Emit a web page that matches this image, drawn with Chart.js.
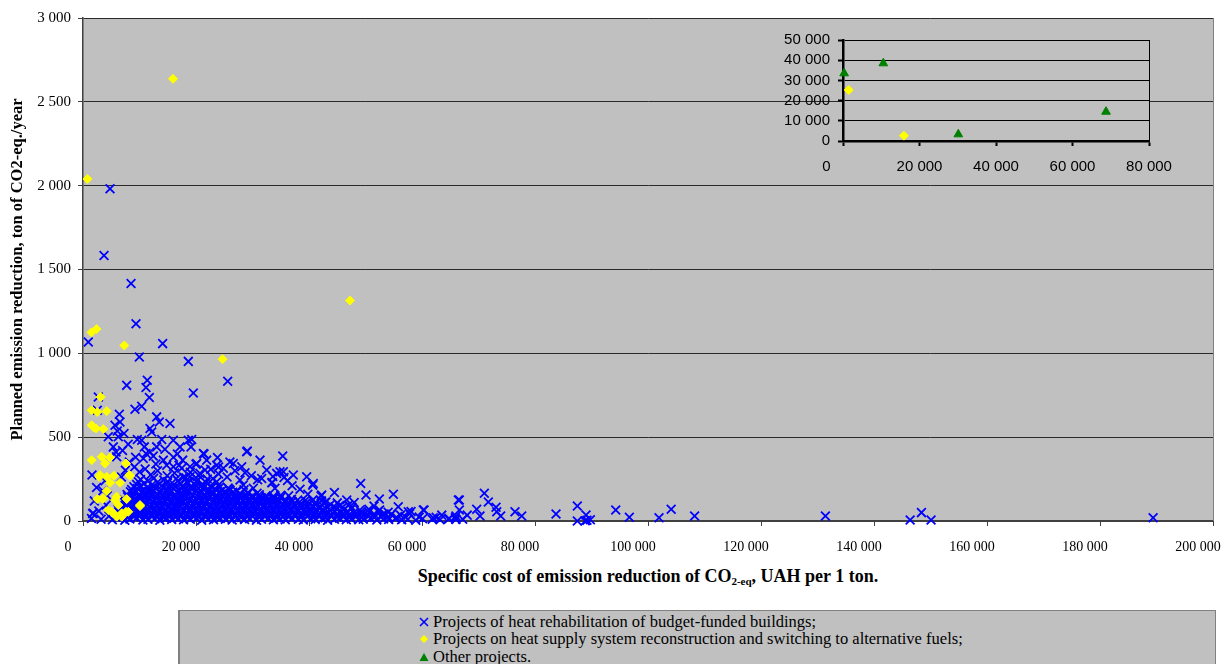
<!DOCTYPE html>
<html><head><meta charset="utf-8">
<script src="https://cdn.jsdelivr.net/npm/chart.js@4.4.1/dist/chart.umd.min.js"></script>
<style>
html,body{margin:0;padding:0;background:#fff;}
#wrap{position:relative;width:1224px;height:664px;overflow:hidden;}
#main{position:absolute;left:0;top:0;}
#inset{position:absolute;left:760px;top:25px;}
#xtitle{position:absolute;left:83px;width:1130px;top:566px;text-align:center;font:bold 18px "Liberation Serif",serif;color:#000;white-space:nowrap;}
#xtitle sub{font-size:11px;vertical-align:-3px;line-height:0;}
#legend{position:absolute;left:178px;top:610px;width:1038px;height:60px;background:#c0c0c0;border:1px solid #808080;border-left:2px solid #808080;box-sizing:border-box;font:16.5px "Liberation Serif",serif;color:#000;}
.row{position:absolute;left:238px;height:17px;display:flex;align-items:center;white-space:nowrap;}
.row svg{margin-right:3px;}
</style>
</head><body>
<div id="wrap">
<canvas id="main" width="1224" height="560"></canvas>
<canvas id="inset" width="440" height="160"></canvas>
<div id="xtitle">Specific cost of emission reduction of CO<sub>2-eq</sub>, UAH per 1 ton.</div>
<div id="legend">
 <div class="row" style="top:2px"><svg width="12" height="12"><path d="M2 2L10 10M10 2L2 10" stroke="#0000ff" stroke-width="1.6" fill="none"/></svg><span>Projects of heat rehabilitation of budget-funded buildings;</span></div>
 <div class="row" style="top:19px"><svg width="12" height="12"><path d="M6 2L10 6L6 10L2 6Z" fill="#ffff00"/></svg><span>Projects on heat supply system reconstruction and switching to alternative fuels;</span></div>
 <div class="row" style="top:37px"><svg width="12" height="12"><path d="M6 2L10.5 10H1.5Z" fill="#008000"/></svg><span>Other projects.</span></div>
</div>
</div>
<script>
// ---- Data (x: UAH per ton, y: ton CO2-eq/year) ----
const xTicksMain = [0,20000,40000,60000,80000,100000,120000,140000,160000,180000,200000];
const yTicksMain = [0,500,1000,1500,2000,2500,3000];

const yellowPoints = [
 [800,2040],[15930,2637],[47260,1315],[24700,965],[7310,1047],[1500,1125],[2400,1145],
 [3130,740],[1540,660],[2530,650],[4190,655],[1540,571],[1820,561],[2300,552],[3590,548],
 [1540,363],[3310,383],[4780,379],[3890,343],[7610,343],[2890,264],[3010,274],[4190,264],[5490,270],
 [8320,270],[8200,274],[4780,228],[6550,228],[4190,179],[2530,131],[3490,131],[3590,135],[5660,125],
 [5960,145],[7730,131],[4480,65],[6250,95],[7610,55],[10090,95],[10090,89],[6850,46],[5360,46],
 [5080,55],[8020,55],[6850,26],[5960,26]
];

const blueOutliers = [
 [4780,1982],[3720,1583],[8500,1417],[9380,1177],[14100,1058],[940,1067],[9970,978],[18640,952],
 [19530,764],[25610,833],[7730,809],[11380,839],[11150,796],[11740,736],[10380,684],[9200,667],
 [6430,637],[13040,621],[13500,591],[15400,581],[2710,740],[2530,660],[5660,571],[6070,537],
 [6550,591],[4480,502],[5360,442],[5840,412],[5960,383],[6250,502],[7260,522],[9610,486],
 [10390,482],[10850,442],[11150,403],[11860,412],[12440,387],[10670,373],[13930,486],[13040,442],
 [12160,531],[11860,552],[15980,482],[17170,442],[16700,399],[18640,482],[19120,442],[17640,363],
 [21420,399],[29080,417],[35350,387],[1590,274],[14220,363],[14810,333],[15990,323],[17470,314],
 [18940,323],[20120,343],[21890,363],[23660,333],[24840,314],[26600,343],[28090,323],[31330,363],
 [32510,304],[34280,284],[37220,274],[39590,264],[40760,224],[19240,486],[21300,403],[28970,413],
 [35460,294],[35580,260],[21600,304],[22600,308],[28670,288],[31630,254],[27790,244],[34870,294],
 [24000,280],[25500,262],[26900,300],[29800,270],[30900,246],[33600,266],[36200,242],[23000,252],
 [20500,272],[19000,290],[17800,262],[16200,286],[14900,270],[13200,300],[12000,276],[11000,310],
 [10000,292],[9100,322],[8200,352],[7500,302],[6800,262],[7000,420],[8000,458],[9300,380],
 [12900,340],[14500,428],[16000,380],[17000,332],[20000,338],[24000,322],[26000,352],[23800,378],
 [33400,228],[33980,195],[30140,195],[28370,214],[23660,234],[26020,184],[18940,264],[20710,284],
 [40660,214],[38410,189],[42250,155]
];

const blueLeft = [
 [2000,120],[2800,60],[3500,180],[4100,95],[4600,30],[3200,10],[4300,150],[2400,200],[1700,45],
 [1820,46],[1500,15],[3900,240]
];

const blueClusterX = [
 5200,6300,7400,8300,9500,10600,11500,12700,13600,14800,15700,16900,17800,19000,20100,21000,22200,23100,24300,25200,26400,27300,28600,29500,30700,31600,32800,33700,34900,35800,37000,38100,39000,40300,41100,42400,43300,44500,45400,46600,47500,48800,49600,50900,52000,53200,54100,55300,56400,57500,58900,60100,61800,63200,64700,66000,
 5700,6800,7900,8900,10000,11100,12100,13200,14200,15300,16300,17400,18400,19500,20600,21600,22700,23700,24800,25800,26900,27900,29000,30100,31100,32200,33200,34300,35300,36500,37500,38600,39600,40800,41700,42900,43800,45000,46000,47100,48200,49300,50400,51500,53000,54600,56200,57800,
 6200,7300,8400,9400,10500,11600,12600,13700,14700,15800,16800,17900,18900,20000,21100,22100,23200,24200,25300,26300,27400,28400,29500,30600,31600,32700,33700,34800,35800,36900,38000,39100,40200,41300,42500,43700,44900,46200,47500,49000,50600,52500,
 6700,7800,8900,9900,11000,12100,13100,14200,15200,16300,17300,18400,19400,20500,21600,22600,23700,24700,25800,26800,27900,28900,30000,31100,32100,33200,34200,35300,36300,37400,38500,39700,41000,42300,43800,45400,47000,
 7200,8300,9400,10400,11500,12600,13600,14700,15700,16800,17800,18900,19900,21000,22100,23100,24200,25200,26300,27300,28400,29400,30500,31600,32600,33700,34700,35800,36900,38000,39300,40700,42200,
 7800,8900,9900,11000,12000,13100,14100,15200,16200,17300,18300,19400,20400,21500,22600,23600,24700,25700,26800,27800,28900,30000,31200,32400,33700,35000,36400,
 8600,9600,10700,11700,12800,13800,14900,15900,17000,18000,19100,20100,21200,22300,23400,24600,25900,27200,28500,
 9500,10800,12200,13500,14800,16100,17300,18600,19900,21200,22600,24000,
 10200,12500,14300,16500,18200,20300,22000
];
const blueClusterY = [
 8,15,5,12,18,6,10,14,4,16,9,13,7,11,17,5,12,8,15,10,6,14,9,13,5,11,16,7,12,8,15,10,6,13,9,14,5,11,16,8,12,7,10,15,6,12,9,14,8,11,5,13,10,7,12,9,
 38,44,35,42,47,36,40,45,33,41,48,37,43,39,46,34,42,38,45,40,36,44,39,47,35,41,43,37,46,39,42,36,44,40,38,45,35,41,43,37,40,44,36,42,38,41,35,43,
 68,74,65,72,77,66,70,75,63,71,78,67,73,69,76,64,72,68,75,70,66,74,69,77,65,71,73,67,76,69,72,66,74,70,68,63,71,67,73,65,70,66,
 98,104,95,102,107,96,100,105,93,101,108,97,103,99,106,94,102,98,105,100,96,104,99,107,95,101,103,97,106,99,102,96,100,95,98,92,96,
 128,134,125,132,137,126,130,135,123,131,138,127,133,129,136,124,132,128,135,130,126,134,129,137,125,131,127,122,129,125,121,126,120,
 158,164,155,162,167,156,160,165,153,161,168,157,163,159,166,154,162,158,152,160,155,150,156,151,148,154,150,
 188,194,185,192,197,186,190,195,183,191,198,187,193,185,190,182,188,180,186,
 218,224,215,222,227,216,220,225,213,218,210,214,
 248,255,245,252,258,246,250
];

const blueFillX = [
 5800,6900,7900,9000,10100,11100,12200,13200,14300,15300,16400,17400,18500,19600,20600,21700,22700,23800,24800,25900,26900,28000,29100,30100,31200,32200,33300,34300,35400,36400,37600,38600,39700,40800,41800,42900,44000,45000,46100,47200,48300,49400,50500,51600,52800,54000,55500,57000,59500,62500,
 6300,7400,8400,9500,10600,11600,12700,13700,14800,15800,16900,17900,19000,20100,21100,22200,23200,24300,25300,26400,27400,28500,29600,30600,31700,32700,33800,34800,35900,37000,38100,39200,40300,41300,42400,43500,44600,45700,46800,48000,49200,50600,52200,54000,
 6800,7800,8900,9900,11000,12000,13100,14100,15200,16200,17300,18300,19400,20500,21500,22600,23600,24700,25700,26800,27800,28900,30000,31000,32100,33100,34200,35200,36300,37400,38500,39600,40800,42000,43300,44600,46000,47600,
 7300,8300,9400,10400,11500,12500,13600,14600,15700,16700,17800,18800,19900,21000,22000,23100,24100,25200,26200,27300,28300,29400,30500,31500,32600,33600,34700,35800,37000,38300,39700,41200,43000,45000,
 7900,8900,10000,11000,12100,13100,14200,15200,16300,17300,18400,19400,20500,21600,22600,23700,24700,25800,26800,27900,28900,30000,31200,32400,33700,35000,
 8400,9400,10500,11500,12600,13600,14700,15700,16800,17800,18900,19900,21000,22100,23100,24200,25300,26500,27800,29200,30800,
 9000,10200,11400,12600,13900,15100,16400,17600,18900,20100,21400,22800,24200,25700,
 9800,11500,13200,15000,16800,18500,20100,21800
];
const blueFillY = [
 24,28,20,26,31,22,25,29,19,27,23,30,21,26,28,22,25,20,29,24,27,21,26,30,23,25,28,20,26,24,29,22,27,23,25,20,28,24,26,21,25,23,27,22,26,24,21,25,23,22,
 54,58,51,56,60,52,55,59,50,57,53,61,52,56,58,51,55,50,59,54,57,52,56,60,53,55,58,51,56,54,59,52,57,53,55,50,58,54,56,51,55,53,57,52,
 84,88,81,86,90,82,85,89,80,87,83,91,82,86,88,81,85,80,89,84,87,82,86,90,83,85,88,81,86,84,89,82,87,83,85,80,84,82,
 114,118,111,116,120,112,115,119,110,117,113,121,112,116,118,111,115,110,119,114,117,112,116,120,113,115,118,111,116,112,114,110,113,108,
 144,148,141,146,150,142,145,149,140,147,143,151,142,146,148,141,145,140,143,139,142,137,141,138,136,140,
 174,178,171,176,180,172,175,179,170,177,173,181,172,176,170,174,168,172,166,170,165,
 204,208,201,206,210,202,205,209,200,207,203,198,202,196,
 234,238,231,236,240,232,235,230
];

const blueTail = [
 [49150,224],[50090,155],[52450,131],[54930,159],[55800,85],[42130,149],[46680,125],[48000,110],
 [60360,65],[58060,56],[57580,55],[60230,65],[62000,20],[63500,35],[64800,15],[66000,30],
 [66430,125],[66610,125],[66610,65],[65900,20],[67200,10],[68000,35],[53500,40],[51500,90],
 [44500,170],[42800,110],[39800,160],[37000,210],[33500,230],
 [69680,70],[70270,30],[71030,165],[71740,113],[73100,82],[73230,55],[73930,30],[76460,55],
 [77650,30],[83720,42],[87490,89],[87490,0],[89030,36],[89200,5],[89800,8],[88900,2],
 [94290,65],[96700,22],[101950,20],[104100,70],[108250,30],[131400,30],[146400,6],[148400,50],
 [150100,6],[189400,20]
];

// inset (large values)
const insetYellow = [[1490,25250],[15930,2637]];
const insetGreen = [[300,33500],[10540,38460],[30150,3300],[68760,14500]];

// ---- helpers ----
const fmt = v => String(v).replace(/\B(?=(\d{3})+(?!\d))/g, ' ');
const toXY = arr => arr.map(p => ({x:p[0], y:p[1]}));
const zipXY = (xs, ys) => xs.map((x,i)=>({x:x, y:ys[i]}));
const bluePts = toXY(blueOutliers).concat(toXY(blueLeft), zipXY(blueClusterX, blueClusterY), zipXY(blueFillX, blueFillY), toXY(blueTail));

const bgPlugin = {
 id:'plotBg',
 beforeDraw(c, a, o){
  const ca=c.chartArea, ctx=c.ctx; ctx.save();
  ctx.fillStyle=o.color; ctx.fillRect(ca.left,ca.top,ca.right-ca.left,ca.bottom-ca.top);
  ctx.restore();
 },
 beforeDatasetsDraw(c, a, o){
  const ca=c.chartArea, ctx=c.ctx; ctx.save();
  ctx.strokeStyle=o.border; ctx.lineWidth=1;
  ctx.beginPath(); ctx.moveTo(Math.round(ca.right)+0.5, ca.top); ctx.lineTo(Math.round(ca.right)+0.5, ca.bottom); ctx.stroke();
  ctx.restore();
 }
};

const serif = 'Liberation Serif';
new Chart(document.getElementById('main'), {
 type:'scatter',
 plugins:[bgPlugin],
 data:{datasets:[
  {label:'Projects on heat supply system reconstruction and switching to alternative fuels;', data:toXY(yellowPoints),
   pointStyle:'rectRot', pointRadius:4.5, backgroundColor:'#ffff00', borderColor:'#ffff00', borderWidth:1, order:0, clip:false},
  {label:'Projects of heat rehabilitation of budget-funded buildings;', data:bluePts,
   pointStyle:'crossRot', pointRadius:6.2, borderColor:'#0000ff', backgroundColor:'#0000ff', borderWidth:1.8, order:1, clip:false}
 ]},
 options:{
  responsive:false, animation:false, devicePixelRatio:1,
  layout:{padding:{left:0,right:11,top:18,bottom:0}},
  plugins:{legend:{display:false}, tooltip:{enabled:false}, plotBg:{color:'#c0c0c0', border:'#808080'}},
  scales:{
   x:{type:'linear', min:0, max:200000,
    afterBuildTicks(s){ s.ticks = xTicksMain.map(v=>({value:v})); },
    afterFit(s){ s.height=39; s.paddingLeft=0; s.paddingRight=0; },
    ticks:{autoSkip:false, maxRotation:0, minRotation:0, labelOffset:-15, padding:13, color:'#000', font:{family:serif,size:14}, callback:fmt},
    grid:{drawOnChartArea:false, drawTicks:true, tickLength:5, tickColor:'#404040', tickWidth:1},
    border:{display:true, color:'#404040', width:2}},
   y:{type:'linear', min:0, max:3000,
    afterBuildTicks(s){ s.ticks = yTicksMain.map(v=>({value:v})); },
    afterFit(s){ s.width=83; s.paddingTop=0; s.paddingBottom=0; },
    ticks:{autoSkip:false, padding:7, color:'#000', font:{family:serif,size:15}, callback:fmt},
    grid:{color:'#2a2a2a', lineWidth:1, tickLength:5, tickColor:'#404040'},
    border:{display:true, color:'#404040', width:1.5},
    title:{display:true, text:'Planned emission reduction, ton of CO2-eq./year', color:'#000', font:{family:serif,size:16.5,weight:'bold'}, padding:{top:8,bottom:0}}}
  }
 }
});

const insetXTicks = [0,20000,40000,60000,80000];
const insetYTicks = [0,10000,20000,30000,40000,50000];
const sans = 'Liberation Sans';
new Chart(document.getElementById('inset'), {
 type:'scatter',
 plugins:[bgPlugin],
 data:{datasets:[
  {label:'yellow', data:toXY(insetYellow), pointStyle:'rectRot', pointRadius:4.5, backgroundColor:'#ffff00', borderColor:'#ffff00', borderWidth:1, clip:false},
  {label:'green', data:toXY(insetGreen), pointStyle:'triangle', pointRadius:5, backgroundColor:'#008000', borderColor:'#008000', borderWidth:1, clip:false}
 ]},
 options:{
  responsive:false, animation:false, devicePixelRatio:1,
  layout:{padding:{left:0,right:51,top:15,bottom:0}},
  plugins:{legend:{display:false}, tooltip:{enabled:false}, plotBg:{color:'#c0c0c0', border:'#000'}},
  scales:{
   x:{type:'linear', min:0, max:80000,
    afterBuildTicks(s){ s.ticks = insetXTicks.map(v=>({value:v})); },
    afterFit(s){ s.height=44; s.paddingLeft=0; s.paddingRight=0; },
    ticks:{autoSkip:false, maxRotation:0, minRotation:0, padding:12, color:'#000', font:{family:sans,size:15},
     callback:v => v === 0 ? '0\u2003\u2003\u2009' : fmt(v)},
    grid:{drawOnChartArea:false, tickLength:5, tickColor:'#000', tickWidth:2},
    border:{display:true, color:'#000', width:2.5}},
   y:{type:'linear', min:0, max:50000,
    afterBuildTicks(s){ s.ticks = insetYTicks.map(v=>({value:v})); },
    afterFit(s){ s.width=83; s.paddingTop=0; s.paddingBottom=0; },
    ticks:{autoSkip:false, padding:8, color:'#000', font:{family:sans,size:15}, callback:fmt},
    grid:{color:'#000', lineWidth:1, tickLength:5, tickColor:'#000', tickWidth:2},
    border:{display:true, color:'#000', width:2.5}}
  }
 }
});
</script>
</body></html>
